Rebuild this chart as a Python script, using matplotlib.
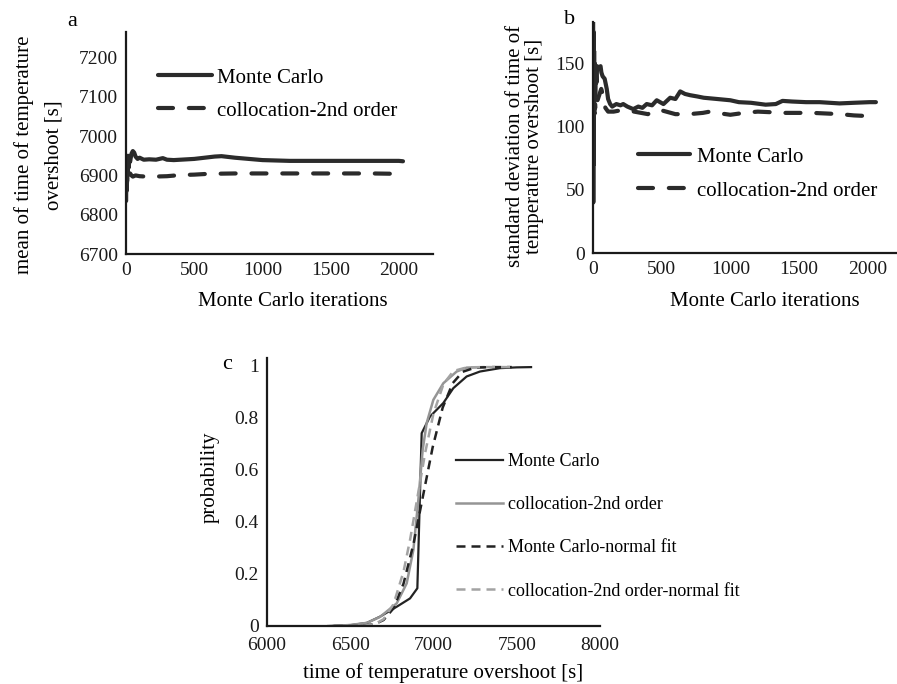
import matplotlib
matplotlib.use("Agg")
import matplotlib.pyplot as plt

plt.rcParams['font.family'] = ['Liberation Serif', 'DejaVu Serif']

# (a) running mean of time of temperature overshoot [s]
mc_mean_iter = [1, 2, 3, 5, 7, 9, 12, 15, 20, 25, 30, 40, 50, 60, 70, 85, 100, 130, 170, 220,
                270, 300, 350, 400, 450, 500, 550, 600, 650, 700, 750, 800, 900, 1000, 1100,
                1200, 1400, 1600, 1800, 2000, 2030]
mc_mean = [6835, 6950, 6860, 6930, 6880, 6945, 6900, 6950, 6920, 6945, 6935, 6955, 6962, 6958,
           6948, 6942, 6945, 6940, 6941, 6940, 6944, 6940, 6939, 6940, 6941, 6942, 6944, 6946,
           6948, 6949, 6947, 6945, 6942, 6939, 6938, 6937, 6937, 6937, 6937, 6937, 6936]
col_mean_iter = [1, 2, 4, 6, 8, 11, 15, 20, 25, 30, 40, 50, 70, 100, 150, 200, 300, 400, 500,
                 600, 800, 1000, 1200, 1400, 1600, 1800, 2000, 2030]
col_mean = [6880, 6920, 6870, 6915, 6885, 6910, 6895, 6908, 6898, 6905, 6900, 6897, 6900, 6898,
            6897, 6897, 6898, 6901, 6902, 6904, 6905, 6905, 6905, 6905, 6905, 6905, 6904, 6904]

# (b) running standard deviation [s]
mc_std_iter = [1, 2, 3, 4, 5, 6, 8, 10, 13, 16, 20, 25, 30, 37, 45, 55, 61, 70, 85, 100, 110,
               125, 140, 170, 200, 220, 250, 293, 330, 360, 391, 430, 464, 513, 562, 600, 635,
               670, 708, 760, 806, 904, 1000, 1062, 1150, 1257, 1331, 1380, 1450, 1551, 1650,
               1795, 1900, 2015, 2060]
mc_std = [190, 40, 150, 70, 175, 100, 160, 120, 150, 125, 145, 135, 148, 146, 147, 148, 143,
          140, 138, 130, 122, 118, 116, 118, 117, 118, 116, 114, 116, 115, 118, 117, 121, 118,
          123, 122, 128, 126, 125, 124, 123, 122, 121, 119.5, 119, 117.5, 118, 120.5, 120,
          119.5, 119.5, 118.5, 119, 119.5, 119.5]
col_std_iter = [1, 3, 6, 10, 15, 20, 30, 45, 60, 75, 90, 110, 150, 200, 250, 300, 350, 400,
                450, 500, 600, 700, 800, 850, 900, 1000, 1100, 1200, 1300, 1400, 1500, 1600,
                1700, 1800, 1900, 2000, 2060]
col_std = [120, 105, 125, 110, 118, 112, 120, 125, 130, 124, 115, 112, 112, 113, 113, 112, 111,
           110, 113, 113, 110, 110, 111, 112, 111, 109.5, 111, 112, 111.5, 111, 111, 111, 110.5,
           110, 109, 108.5, 108]

# (c) cumulative probability
mc_cdf_t = [6367, 6500, 6600, 6679, 6779, 6859, 6903, 6929, 6979, 7059, 7119, 7199, 7279,
            7399, 7500, 7586]
mc_cdf = [0, 0.003, 0.012, 0.036, 0.074, 0.106, 0.145, 0.741, 0.805, 0.857, 0.914, 0.959,
          0.978, 0.991, 0.994, 0.995]
col_cdf_t = [6400, 6500, 6600, 6679, 6779, 6839, 6879, 6909, 6935, 6959, 6999, 7059, 7139,
             7199, 7300]
col_cdf = [0, 0.004, 0.012, 0.035, 0.087, 0.164, 0.292, 0.485, 0.677, 0.78, 0.869, 0.933,
           0.978, 0.993, 0.995]
mc_fit_t = [6400, 6500, 6580, 6650, 6700, 6760, 6820, 6880, 6937, 6995, 7055, 7115, 7175,
            7250, 7350, 7470]
mc_fit = [0, 0.0001, 0.0013, 0.008, 0.023, 0.068, 0.163, 0.316, 0.5, 0.687, 0.839, 0.933,
          0.977, 0.993, 0.995, 0.995]
col_fit_t = [6400, 6500, 6580, 6650, 6700, 6760, 6820, 6860, 6905, 6950, 7000, 7060, 7120,
             7200, 7300, 7470]
col_fit = [0, 0.0001, 0.001, 0.0075, 0.026, 0.084, 0.209, 0.334, 0.5, 0.666, 0.817, 0.93,
           0.98, 0.994, 0.995, 0.995]

W, H = 897, 684
fig = plt.figure(figsize=(W / 100, H / 100), dpi=100)


def px_axes(left, top, right, bottom):
    return fig.add_axes([left / W, 1 - bottom / H, (right - left) / W, (bottom - top) / H])


def style(ax, tick_size=14, xpad=6.0, ypad=5.8):
    for s in ['top', 'right']:
        ax.spines[s].set_visible(False)
    for s in ['left', 'bottom']:
        ax.spines[s].set_linewidth(1.6)
        ax.spines[s].set_color('#1a1a1a')
    ax.tick_params(axis='both', length=0, labelsize=tick_size, colors='#1a1a1a')
    ax.tick_params(axis='x', pad=xpad)
    ax.tick_params(axis='y', pad=ypad)


dark = '#2b2b2b'
lw_ab = 3.0
dash_ab = (3.6, 3.8)

# panel a
ax_a = px_axes(126, 32, 433, 254)
ax_a.plot(mc_mean_iter, mc_mean, color=dark, lw=lw_ab, solid_capstyle='round',
          label='Monte Carlo')
ax_a.plot(col_mean_iter, col_mean, color=dark, lw=lw_ab, dashes=dash_ab,
          dash_capstyle='round', label='collocation-2nd order')
ax_a.set_xlim(0, 2250)
ax_a.set_ylim(6700, 7265)
ax_a.set_xticks([0, 500, 1000, 1500, 2000])
ax_a.set_yticks([6700, 6800, 6900, 7000, 7100, 7200])
style(ax_a)
ax_a.set_xlabel('Monte Carlo iterations', fontsize=15)
ax_a.xaxis.set_label_coords(0.544, -0.17)
ax_a.set_ylabel('mean of time of temperature\novershoot [s]', fontsize=15, linespacing=1.75)
ax_a.yaxis.set_label_coords(-0.205, 0.446)
ax_a.legend(loc='upper left', bbox_to_anchor=(158 / W, 1 - 68 / H),
            bbox_transform=fig.transFigure, frameon=False, fontsize=15,
            handlelength=2.6, handletextpad=0.24, labelspacing=0.65,
            borderpad=0, borderaxespad=0)
fig.text(72 / W, 1 - 22 / H, 'a', fontsize=16, ha='center', va='center')

# panel b
ax_b = px_axes(593, 22, 902, 253)
ax_b.plot(mc_std_iter, mc_std, color=dark, lw=lw_ab, solid_capstyle='round',
          label='Monte Carlo')
ax_b.plot(col_std_iter, col_std, color=dark, lw=lw_ab, dashes=dash_ab,
          dash_capstyle='round', label='collocation-2nd order')
ax_b.set_xlim(0, 2250)
ax_b.set_ylim(0, 183)
ax_b.set_xticks([0, 500, 1000, 1500, 2000])
ax_b.set_yticks([0, 50, 100, 150])
style(ax_b)
ax_b.set_xlabel('Monte Carlo iterations', fontsize=15)
ax_b.xaxis.set_label_coords(0.556, -0.17)
ax_b.set_ylabel('standard deviation of time of\ntemperature overshoot [s]', fontsize=15,
                linespacing=1.0)
ax_b.yaxis.set_label_coords(-0.158, 0.463)
ax_b.legend(loc='upper left', bbox_to_anchor=(638 / W, 1 - 147 / H),
            bbox_transform=fig.transFigure, frameon=False, fontsize=15,
            handlelength=2.5, handletextpad=0.34, labelspacing=0.7,
            borderpad=0, borderaxespad=0)
fig.text(570 / W, 1 - 20 / H, 'b', fontsize=16, ha='center', va='center')

# panel c
ax_c = px_axes(267, 358, 600, 626)
ax_c.plot(mc_cdf_t, mc_cdf, color='#222222', lw=1.6, label='Monte Carlo')
ax_c.plot(col_cdf_t, col_cdf, color='#959595', lw=1.8, label='collocation-2nd order')
ax_c.plot(mc_fit_t, mc_fit, color='#222222', lw=1.8, dashes=(3.6, 2.4),
          label='Monte Carlo-normal fit')
ax_c.plot(col_fit_t, col_fit, color='#a3a3a3', lw=1.8, dashes=(3.6, 2.4),
          label='collocation-2nd order-normal fit')
ax_c.set_xlim(6000, 8000)
ax_c.set_ylim(0, 1.03)
ax_c.set_xticks([6000, 6500, 7000, 7500, 8000])
ax_c.set_yticks([0, 0.2, 0.4, 0.6, 0.8, 1])
ax_c.set_yticklabels(['0', '0.2', '0.4', '0.6', '0.8', '1'])
style(ax_c, xpad=8.0, ypad=5.8)
ax_c.set_xlabel('time of temperature overshoot [s]', fontsize=15)
ax_c.xaxis.set_label_coords(0.529, -0.14)
ax_c.set_ylabel('probability', fontsize=15)
ax_c.yaxis.set_label_coords(-0.141, 0.556)
ax_c.legend(loc='upper left', bbox_to_anchor=(456 / W, 1 - 453 / H),
            bbox_transform=fig.transFigure, frameon=False, fontsize=13,
            handlelength=2.6, handletextpad=0.28, labelspacing=1.45,
            borderpad=0, borderaxespad=0)
fig.text(227 / W, 1 - 365 / H, 'c', fontsize=16, ha='center', va='center')

fig.savefig('out.png', dpi=100)
